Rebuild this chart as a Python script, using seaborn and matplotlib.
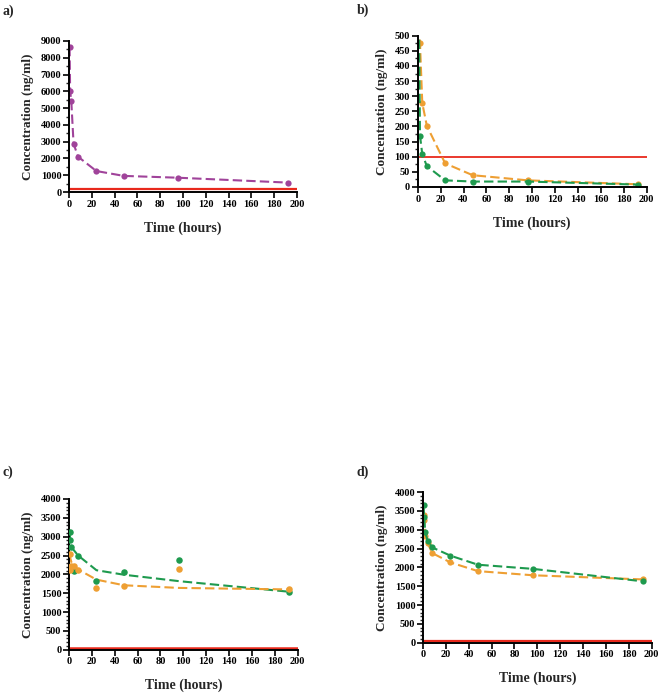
import matplotlib
matplotlib.use("Agg")
import matplotlib.pyplot as plt
import seaborn as sns
import pandas as pd
from matplotlib.ticker import MultipleLocator, AutoMinorLocator

# ---------------- data ----------------
time_h = [0.5, 1, 2, 4, 8, 24, 48, 96, 192]

a_purple = [8650, 6000, 5430, 2880, 2100, 1250, 960, 850, 560]
a_ref = 200

b_orange = [1200, 700, 475, 277, 202, 78, 39, 22, 9]
b_green = [900, 600, 170, 108, 69, 22, 18, 18, 8]
b_ref = 100

c_green_obs = [2910, 3120, 2730, 2090, 2480, 1830, 2060, 2380, 1530]
c_orange_obs = [2120, 2530, 2230, 2230, 2120, 1630, 1700, 2140, 1600]
c_green_fit = [3100, 2950, 2800, 2650, 2500, 2110, 1990, 1820, 1540]
c_orange_fit = [2550, 2450, 2330, 2230, 2130, 1860, 1710, 1640, 1600]
c_ref = 45

d_green = [3660, 3340, 2930, 2710, 2530, 2310, 2070, 1960, 1630]
d_orange = [3380, 3250, 2820, 2650, 2380, 2130, 1900, 1790, 1680]
d_ref = 55

x_ticks = list(range(0, 201, 20))
panel_labels = ["a)", "b)", "c)", "d)"]
xlabel = "Time (hours)"
ylabel = "Concentration (ng/ml)"

PURPLE = "#A0439A"
ORANGE = "#EE9F33"
GREEN = "#1E9A4E"
RED = "#E8291C"

sns.set_style("ticks")
plt.rcParams["font.family"] = ["Liberation Serif", "DejaVu Serif"]
plt.rcParams["font.weight"] = "bold"

fig = plt.figure(figsize=(6.62, 6.95), dpi=100)

W, H = 662.0, 695.0
def add_axes(left, top, right, bottom):
    return fig.add_axes([left / W, 1 - bottom / H, (right - left) / W, (bottom - top) / H])

ax_a = add_axes(69, 41, 297, 192)
ax_b = add_axes(417.7, 35.7, 646.7, 187)
ax_c = add_axes(69, 499, 297.7, 649.7)
ax_d = add_axes(423, 492, 651.7, 642.7)

def dashed_line(ax, y, color, marker=True):
    df = pd.DataFrame({"t": time_h, "c": y})
    kw = dict(marker="o", markersize=4.5, markeredgewidth=0) if marker else {}
    sns.lineplot(data=df, x="t", y="c", ax=ax, color=color, linestyle=(0, (4.5, 2)),
                 linewidth=1.5, **kw)

def points(ax, y, color):
    df = pd.DataFrame({"t": time_h, "c": y})
    sns.scatterplot(data=df, x="t", y="c", ax=ax, color=color, s=22, linewidth=0, zorder=3)

# a
dashed_line(ax_a, a_purple, PURPLE)
ax_a.axhline(a_ref, color=RED, lw=1.6, zorder=1)
# b
dashed_line(ax_b, b_orange, ORANGE)
dashed_line(ax_b, b_green, GREEN)
ax_b.axhline(b_ref, color=RED, lw=1.3, zorder=1)
# c
dashed_line(ax_c, c_green_fit, GREEN, marker=False)
dashed_line(ax_c, c_orange_fit, ORANGE, marker=False)
points(ax_c, c_green_obs, GREEN)
points(ax_c, c_orange_obs, ORANGE)
ax_c.axhline(c_ref, color=RED, lw=1.8, zorder=1)
# d
dashed_line(ax_d, d_orange, ORANGE)
dashed_line(ax_d, d_green, GREEN)
ax_d.axhline(d_ref, color=RED, lw=1.6, zorder=1)

specs = [
    (ax_a, 9000, 1000, 2),
    (ax_b, 500, 50, 2),
    (ax_c, 4000, 500, 5),
    (ax_d, 4000, 500, 5),
]
for ax, ymax, ystep, nminor in specs:
    ax.set_xlim(0, 200)
    ax.set_ylim(0, ymax)
    ax.set_xticks(x_ticks)
    ax.yaxis.set_major_locator(MultipleLocator(ystep))
    ax.yaxis.set_minor_locator(AutoMinorLocator(nminor))
    for s in ["top", "right"]:
        ax.spines[s].set_visible(False)
    for s in ["left", "bottom"]:
        ax.spines[s].set_linewidth(1.4)
        ax.spines[s].set_color("black")
    ax.tick_params(axis="both", which="major", direction="out", length=4, width=1.2,
                   labelsize=7.5, pad=1.5, colors="black")
    ax.tick_params(axis="y", which="minor", direction="out", length=2.5, width=1.0)
    for lab in ax.get_xticklabels() + ax.get_yticklabels():
        lab.set_fontweight("bold")
    ax.set_xlabel(xlabel, fontsize=10, fontweight="bold", labelpad=9)
    ax.set_ylabel(ylabel, fontsize=9.5, fontweight="bold", labelpad=5)
    ax.set_facecolor("white")
    if ax.get_legend() is not None:
        ax.get_legend().remove()

label_pos = [(8, 11), (363, 10), (8, 472), (363, 472)]
for lab, (px, py) in zip(panel_labels, label_pos):
    fig.text(px / W, 1 - py / H, lab, fontsize=10, fontweight="bold",
             ha="center", va="center")

fig.savefig("out.png", dpi=100, facecolor="white")
